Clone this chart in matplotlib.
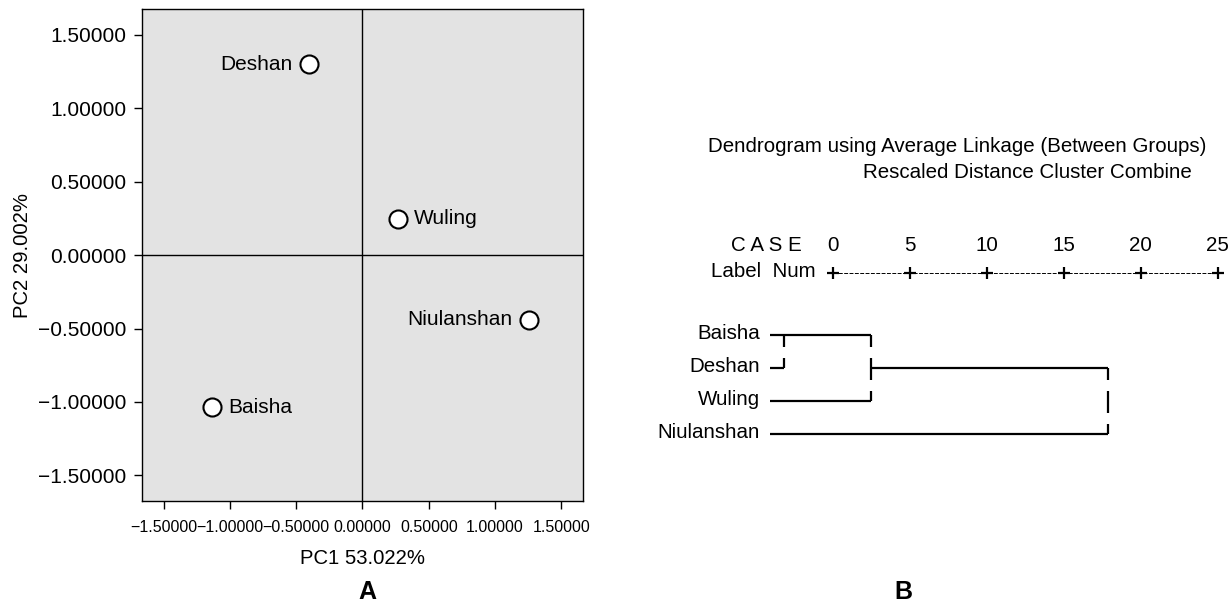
import matplotlib
matplotlib.use('Agg')
import matplotlib.pyplot as plt

plt.rcParams['font.family'] = ['Liberation Sans', 'DejaVu Sans']

# PCA scores (panel A)
sites = ['Deshan', 'Wuling', 'Niulanshan', 'Baisha']
pc1 = [-0.40, 0.265, 1.254, -1.138]
pc2 = [1.30, 0.247, -0.44, -1.035]
label_side = ['left', 'right', 'left', 'right']
ticks = [-1.5, -1.0, -0.5, 0.0, 0.5, 1.0, 1.5]

# Dendrogram (panel B), rescaled distance 0-25
leaves = ['Baisha', 'Deshan', 'Wuling', 'Niulanshan']
scale_ticks = [0, 5, 10, 15, 20, 25]
leaf_start = -4.1
# (distance, top row, bottom row, row where the merged line continues)
merges = [(-3.2, 0, 1, 0), (2.5, 0, 2, 1), (17.85, 1, 3, 1)]

fig = plt.figure(figsize=(12.3, 6.05), dpi=100)


def fmt(t):
    return '%.5f' % t if t >= 0 else '\u2212%.5f' % -t


# ---------- panel A ----------
ax = fig.add_axes([0.1152, 0.172, 0.359, 0.8126])
ax.set_facecolor('#e3e3e3')
ax.axhline(0, color='black', lw=1)
ax.axvline(0, color='black', lw=1)
ax.plot(pc1, pc2, 'o', ms=13, mfc='white', mec='black', mew=1.5, zorder=3)
for name, x, y, side in zip(sites, pc1, pc2, label_side):
    off = -12 if side == 'left' else 12
    ax.annotate(name, (x, y), xytext=(off, 0), textcoords='offset points',
                ha='right' if side == 'left' else 'left', va='center', fontsize=15)
ax.set_xlim(-1.665, 1.665)
ax.set_ylim(-1.675, 1.675)
ax.set_xticks(ticks)
ax.set_yticks(ticks)
ax.set_xticklabels([fmt(t) for t in ticks], fontsize=11.5)
ax.set_yticklabels([fmt(t) for t in ticks], fontsize=15)
ax.tick_params(direction='out', length=6, width=1, pad=5)
ax.tick_params(axis='x', pad=8)
for s in ax.spines.values():
    s.set_linewidth(1)
ax.set_xlabel('PC1 53.022%', fontsize=14.6, labelpad=10)
ax.set_ylabel('PC2 29.002%', fontsize=14.6, labelpad=4)

# ---------- panel B ----------
bx = fig.add_axes([640 / 1230, 1 - 460 / 605, 590 / 1230, 340 / 605])
bx.set_xlim(-12.55, 25.81)
bx.set_ylim(3.786, -6.547)
bx.axis('off')

fs = 14.8
bx.text(24.25, -5.73, 'Dendrogram using Average Linkage (Between Groups)',
        ha='right', va='center', fontsize=fs)
bx.text(23.3, -4.95, 'Rescaled Distance Cluster Combine', ha='right', va='center', fontsize=fs)
bx.text(-2.03, -2.74, 'C A S E', ha='right', va='center', fontsize=fs)
bx.text(-1.11, -1.94, 'Label  Num', ha='right', va='center', fontsize=fs)
for t in scale_ticks:
    bx.text(t, -2.74, str(t), ha='center', va='center', fontsize=fs)
bx.plot([scale_ticks[0], scale_ticks[-1]], [-1.9, -1.9], color='black', lw=0.7,
        linestyle=(0, (4, 1.5)))
bx.plot(scale_ticks, [-1.9] * len(scale_ticks), '+', color='black', ms=9, mew=1.6)

lw = 1.6
for i, name in enumerate(leaves):
    bx.text(-4.75, i - 0.06, name, ha='right', va='center', fontsize=fs)

# horizontal lines: each leaf goes to its first merge
ends = {0: merges[1][0], 1: merges[0][0], 2: merges[1][0], 3: merges[2][0]}
for r, xe in ends.items():
    bx.plot([leaf_start, xe], [r, r], color='black', lw=lw, solid_capstyle='butt')
# continuation of merged cluster line
bx.plot([merges[1][0], merges[2][0]], [1, 1], color='black', lw=lw, solid_capstyle='butt')


def vbar(x, r0, r1):
    # text-style vertical: one glyph segment per row
    for r in range(r0, r1 + 1):
        y0 = max(r - 0.3, r0)
        y1 = min(r + 0.35, r1)
        bx.plot([x, x], [y0, y1], color='black', lw=lw, solid_capstyle='butt')


for x, r0, r1, _ in merges:
    vbar(x, r0, r1)

fig.text(367 / 1230, 1 - 592 / 605, 'A', ha='center', va='center', fontsize=18, fontweight='bold')
fig.text(903 / 1230, 1 - 592 / 605, 'B', ha='center', va='center', fontsize=18, fontweight='bold')

fig.savefig('out.png', dpi=100)
